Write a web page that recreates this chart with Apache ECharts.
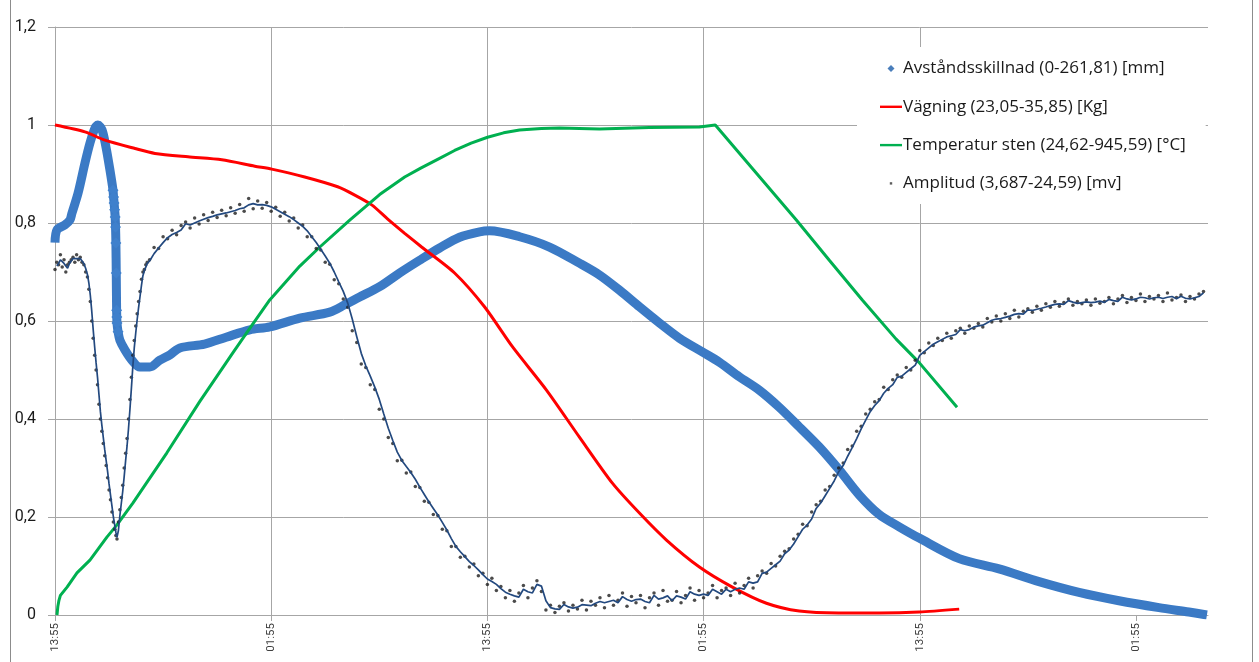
<!DOCTYPE html>
<html>
<head>
<meta charset="utf-8">
<script src="https://cdn.jsdelivr.net/npm/echarts@6/dist/echarts.min.js"></script>
<style>html,body{margin:0;padding:0;background:#fff}#c{width:1259px;height:662px}</style>
</head>
<body>
<div id="c"></div>
<script>
// x values are hours since the first sample (13:55)
const seriesNames = ['Avståndsskillnad (0-261,81) [mm]', 'Vägning (23,05-35,85) [Kg]', 'Temperatur sten (24,62-945,59) [°C]', 'Amplitud (3,687-24,59) [mv]'];
const xTickLabels = ['13:55', '01:55'];

const avstand = [[0.0,0.76],[0.11,0.786],[0.55,0.796],[0.83,0.806],[0.94,0.82],[1.28,0.861],[1.66,0.922],[1.94,0.963],[2.22,0.994],[2.38,1.0],[2.61,0.99],[2.83,0.955],[3.05,0.908],[3.22,0.867],[3.25,0.853],[3.28,0.841],[3.31,0.827],[3.34,0.812],[3.36,0.792],[3.38,0.759],[3.40,0.698],[3.42,0.622],[3.43,0.608],[3.44,0.596],[3.50,0.578],[3.60,0.561],[3.88,0.541],[4.27,0.52],[4.71,0.506],[5.27,0.506],[5.82,0.52],[6.38,0.531],[6.93,0.545],[8.3,0.553],[9.5,0.567],[10.81,0.582],[11.92,0.588],[13.59,0.606],[15.25,0.618],[16.08,0.633],[16.91,0.649],[18.02,0.67],[19.13,0.698],[20.24,0.724],[21.35,0.749],[22.46,0.771],[23.57,0.782],[24.12,0.784],[25.79,0.772],[27.45,0.751],[29.11,0.718],[30.22,0.694],[31.33,0.663],[32.44,0.629],[33.55,0.596],[34.66,0.565],[35.93,0.537],[36.88,0.516],[37.99,0.486],[39.09,0.459],[40.2,0.424],[41.31,0.384],[42.42,0.343],[43.53,0.296],[44.64,0.245],[45.75,0.205],[46.86,0.18],[47.97,0.157],[50.19,0.115],[52.4,0.094],[54.62,0.068],[56.84,0.046],[59.06,0.029],[61.28,0.015],[62.94,0.006],[63.94,0.0]];

const vagning = [[0,1.0],[1.66,0.986],[2.77,0.969],[4.44,0.952],[5.55,0.942],[7.38,0.935],[9.26,0.929],[11.09,0.916],[12.03,0.91],[13.86,0.894],[15.69,0.874],[16.64,0.857],[17.58,0.837],[18.47,0.808],[19.41,0.779],[20.35,0.751],[22.18,0.698],[23.84,0.629],[25.4,0.547],[27.28,0.459],[29.11,0.363],[30.94,0.269],[32.44,0.208],[33.94,0.153],[35.77,0.098],[37.6,0.057],[39.49,0.024],[41.31,0.008],[43.5,0.004],[45.75,0.004],[47.97,0.006],[50.19,0.012]];

const temperatur = [[0.11,0],[0.16,0.018],[0.22,0.03],[0.3,0.04],[0.67,0.057],[1.22,0.086],[1.94,0.112],[2.88,0.159],[3.44,0.184],[4.33,0.229],[6.21,0.331],[8.04,0.436],[9.87,0.535],[10.81,0.585],[11.92,0.643],[13.59,0.712],[14.7,0.751],[16.36,0.806],[18.02,0.858],[19.41,0.894],[20.3,0.912],[21.24,0.93],[22.18,0.948],[23.1,0.963],[24.01,0.975],[24.9,0.984],[25.79,0.99],[27.0,0.993],[28.0,0.994],[30.22,0.992],[32.99,0.995],[35.77,0.996],[36.65,1.0],[41.15,0.806],[42.98,0.724],[44.81,0.643],[46.69,0.563],[47.97,0.515],[50.07,0.424]];

// Amplitud: first hours read point by point, then samples every 0.25 h
const amplitudEarly = [[0,0.705],[0.1,0.72],[0.2,0.715],[0.3,0.735],[0.4,0.71],[0.5,0.725],[0.6,0.70],[0.7,0.715],[0.8,0.72],[0.9,0.725],[1.0,0.73],[1.1,0.72],[1.2,0.735],[1.3,0.725],[1.4,0.73],[1.5,0.72],[1.6,0.715],[1.7,0.70],[1.8,0.69],[1.88,0.665],[1.96,0.64],[2.04,0.60],[2.12,0.565],[2.20,0.53],[2.28,0.50],[2.36,0.47],[2.44,0.43],[2.52,0.40],[2.60,0.375],[2.68,0.35],[2.76,0.325],[2.84,0.305],[2.92,0.28],[3.00,0.255],[3.08,0.235],[3.16,0.21],[3.24,0.19],[3.32,0.175],[3.38,0.162],[3.44,0.155],[3.52,0.19],[3.60,0.215],[3.68,0.24],[3.76,0.265],[3.84,0.30],[3.92,0.33],[4.00,0.36],[4.08,0.40],[4.16,0.44],[4.24,0.485],[4.32,0.53],[4.40,0.56],[4.48,0.59],[4.56,0.615],[4.64,0.64],[4.72,0.66],[4.80,0.685],[4.88,0.70],[4.96,0.705],[5.04,0.715],[5.12,0.72]];
const amplitudStart = 5.25;
const amplitudStep = 0.25;
const amplitudValues = [
.725,.75,.748,.772, .768,.785,.776,.795, .802,.79,.81,.798, .817,.805,.822,.811,
.826,.815,.831,.82, .838,.824,.85,.829, .845,.83,.842,.824, .832,.814,.822,.804,
.81,.79,.796,.772, .772,.748,.745,.72, .716,.684,.676,.645, .628,.58,.556,.512,
.505,.47,.46,.42, .40,.362,.35,.315, .316,.29,.292,.262, .26,.232,.23,.205,
.203,.175,.172,.14, .14,.118,.12,.098, .104,.08,.085,.062, .075,.05,.058,.035,
.05,.028,.045,.06, .035,.055,.07,.048, .01,.02,.005,.018, .025,.008,.02,.012,
.03,.01,.028,.02, .035,.015,.04,.02, .03,.045,.018,.038, .025,.04,.015,.035,
.045,.02,.05,.028, .03,.048,.025,.04, .055,.03,.05,.035, .045,.06,.035,.05,
.055,.04,.065,.045, .06,.075,.055,.08, .09,.085,.105,.1, .12,.13,.135,.155,
.165,.185,.182,.21, .225,.232,.255,.262, .285,.3,.31,.338, .345,.375,.385,.41,
.42,.435,.44,.465, .46,.48,.49,.485, .505,.5,.52,.54, .535,.555,.55,.565,
.56,.575,.565,.58, .585,.575,.59,.585, .595,.588,.605,.598, .61,.6,.615,.605,
.622,.608,.62,.625, .618,.63,.622,.635, .628,.64,.63,.638, .645,.632,.64,.635,
.643,.632,.645,.636, .64,.648,.635,.645, .652,.638,.648,.642, .655,.64,.65,.645,
.652,.64,.657,.643, .648,.653,.64,.65, .645,.655,.66
];

const amplitud = amplitudEarly.concat(amplitudValues.map((v, i) => [+(amplitudStart + i * amplitudStep).toFixed(2), v]));
// 2-period moving average (trend line drawn over the dots)
const amplitudTrend = amplitud.slice(1).map((p, i) => [p[0], (p[1] + amplitud[i][1]) / 2]);

// diamonds stand out only where samples are close in time (fast change)
const avstandSpread = avstand.map((p, i) => {
  const prev = avstand[i - 1], next = avstand[i + 1];
  const dx = Math.min(prev ? p[0] - prev[0] : 99, next ? next[0] - p[0] : 99);
  return dx < 0.08;
});

const GRID = '#a6a6a6';
const FONT = 'Roboto';
const LEGEND_FONT = 'Open Sans';

function icon(body) { return 'path://M0,0 M22,14 ' + body; }

const chart = echarts.init(document.getElementById('c'), null, {renderer: 'canvas'});
chart.setOption({
  animation: false,
  backgroundColor: '#fff',
  grid: {left: 55, right: 51, top: 27, bottom: 47, containLabel: false},
  graphic: [
    {type: 'line', shape: {x1: 10.5, y1: 0, x2: 10.5, y2: 662}, style: {stroke: '#8c8c8c', lineWidth: 1}, silent: true},
    {type: 'line', shape: {x1: 1252.5, y1: 0, x2: 1252.5, y2: 662}, style: {stroke: '#8c8c8c', lineWidth: 1}, silent: true}
  ],
  legend: {
    orient: 'vertical', left: 857, top: 47,
    padding: [13, 20, 12, 23],
    backgroundColor: '#ffffff',
    itemWidth: 22, itemHeight: 14, itemGap: 21.3,
    symbolKeepAspect: true,
    textStyle: {fontFamily: LEGEND_FONT, fontSize: 17, color: '#1a1a1a', padding: [0, 0, 0, -4]},
    data: [
      {name: seriesNames[0], icon: icon('M11,3.5 L14.5,7 L11,10.5 L7.5,7 Z'), itemStyle: {color: '#4a7ebb'}},
      {name: seriesNames[1], icon: icon('M0,5.8 L22,5.8 L22,8.2 L0,8.2 Z'), itemStyle: {color: '#ff0000'}},
      {name: seriesNames[2], icon: icon('M0,5.8 L22,5.8 L22,8.2 L0,8.2 Z'), itemStyle: {color: '#00b050'}},
      {name: seriesNames[3], icon: icon('M9.8,5.8 L12.2,5.8 L12.2,8.2 L9.8,8.2 Z'), itemStyle: {color: '#333333'}}
    ]
  },
  xAxis: {
    type: 'value', min: 0, max: 64, interval: 12,
    axisLine: {show: true, lineStyle: {color: GRID}},
    axisTick: {show: true, length: 6, lineStyle: {color: GRID}, customValues: [0, 12, 24, 36, 48, 60]},
    splitLine: {show: true, showMaxLine: false, lineStyle: {color: GRID, width: 1}},
    axisLabel: {
      rotate: 90, margin: 8, fontFamily: FONT, fontSize: 11.5, color: '#404040',
      customValues: [0, 12, 24, 36, 48, 60],
      formatter: v => xTickLabels[Math.round(v / 12) % 2]
    }
  },
  yAxis: {
    type: 'value', min: 0, max: 1.2, interval: 0.2,
    axisLine: {show: true, lineStyle: {color: GRID}},
    axisTick: {show: true, length: 7, lineStyle: {color: GRID}},
    splitLine: {show: true, lineStyle: {color: GRID, width: 1}},
    axisLabel: {
      margin: 19, fontFamily: FONT, fontSize: 16, color: '#1a1a1a',
      formatter: v => {
        const s = (+v.toFixed(1)).toString();
        return s.replace('.', ',');
      }
    }
  },
  series: [
    {
      name: seriesNames[0], type: 'line', data: avstand,
      smooth: 0.3,
      symbol: 'diamond', showSymbol: true, showAllSymbol: true,
      symbolSize: (val, params) => avstandSpread[params.dataIndex] ? 11 : 0,
      lineStyle: {color: '#3b7ac5', width: 9},
      itemStyle: {color: '#3f80cc'},
      z: 2
    },
    {
      name: seriesNames[1], type: 'line', data: vagning,
      smooth: 0.25, symbol: 'none',
      lineStyle: {color: '#ff0000', width: 3},
      itemStyle: {color: '#ff0000'}, z: 3
    },
    {
      name: seriesNames[2], type: 'line', data: temperatur,
      smooth: false, symbol: 'none',
      lineStyle: {color: '#00b050', width: 3},
      itemStyle: {color: '#00b050'}, z: 4
    },
    {
      name: seriesNames[3], type: 'scatter', data: amplitud,
      symbol: 'circle', symbolSize: 3.5,
      itemStyle: {color: '#1e1e1e'}, z: 5
    },
    {
      name: 'trend', type: 'line', data: amplitudTrend,
      symbol: 'none', smooth: false,
      lineStyle: {color: '#23497f', width: 1.7}, z: 6
    }
  ]
});
</script>
</body>
</html>
